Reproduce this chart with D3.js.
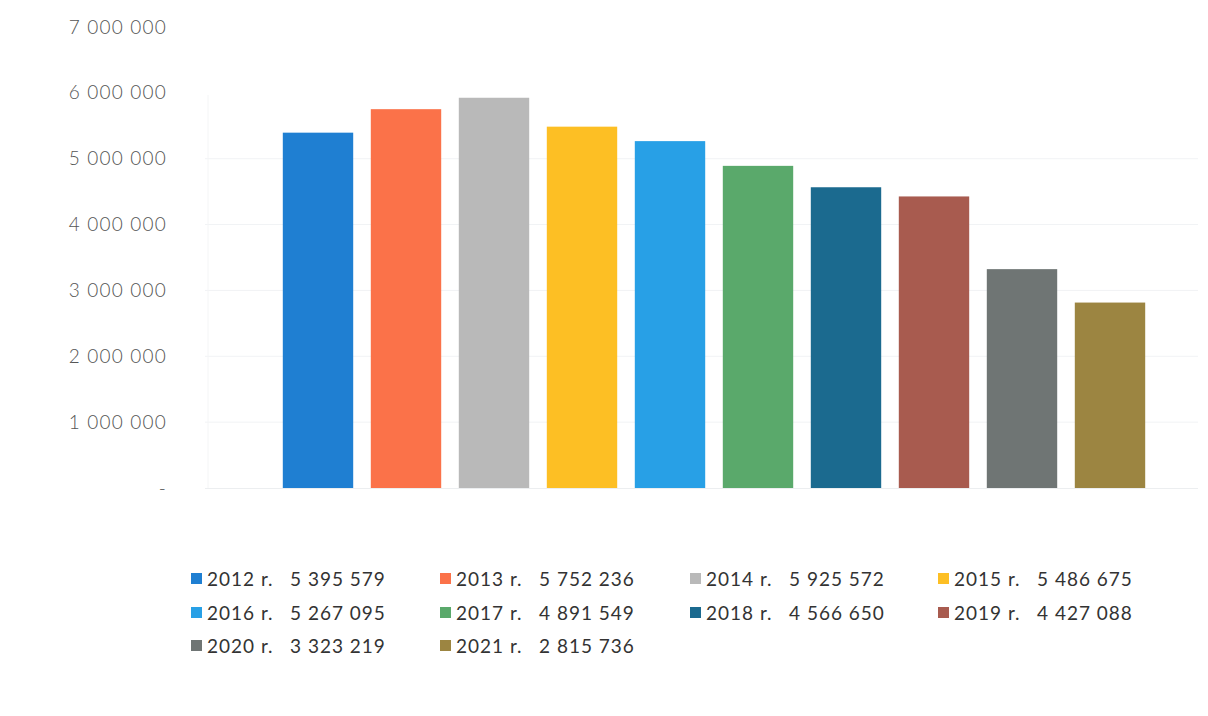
<!DOCTYPE html>
<html><head><meta charset="utf-8">
<script src="https://cdn.jsdelivr.net/npm/d3@7"></script>
<style>
body{margin:0;background:#fff;}
svg{display:block;}
</style></head>
<body>
<svg id="c" width="1208" height="716"></svg>
<script>
const years = ["2012","2013","2014","2015","2016","2017","2018","2019","2020","2021"];
const values = [5395579,5752236,5925572,5486675,5267095,4891549,4566650,4427088,3323219,2815736];
const colors = ["#1f7fd2","#fb7249","#b9b9b9","#fdbf24","#28a0e6","#5aa96b","#1b6a8f","#a85b4f","#6f7574","#9c8541"];
const tickValues = [0,1000000,2000000,3000000,4000000,5000000,6000000,7000000];
const tickLabels = ["-","1 000 000","2 000 000","3 000 000","4 000 000","5 000 000","6 000 000","7 000 000"];
const legendLabels = ["5 395 579","5 752 236","5 925 572","5 486 675","5 267 095","4 891 549","4 566 650","4 427 088","3 323 219","2 815 736"];

const svg = d3.select("#c");
const y = d3.scaleLinear().domain([0,7000000]).range([488,27]);
const x = d3.scaleBand().domain(years).range([274,1154]).paddingInner(0.2).paddingOuter(0.1);

// gridlines (very faint in the reference)
svg.append("g").selectAll("line").data(tickValues.slice(1,6)).join("line")
  .attr("x1",205).attr("x2",1198)
  .attr("y1",d=>y(d)).attr("y2",d=>y(d))
  .attr("stroke","#f1f3f5").attr("stroke-width",1);
svg.append("line").attr("x1",205).attr("x2",1198).attr("y1",y(0)+0.5).attr("y2",y(0)+0.5)
  .attr("stroke","#eceef0");
svg.append("line").attr("x1",208).attr("x2",208).attr("y1",95).attr("y2",488)
  .attr("stroke","#f4f5f6");

// y axis labels
const yAxis = d3.axisLeft(y).tickValues(tickValues).tickSize(0).tickPadding(0)
  .tickFormat((d,i)=>tickLabels[i]);
const ga = svg.append("g").attr("transform","translate(167,0)").call(yAxis);
ga.select(".domain").remove();
ga.selectAll("text").attr("font-family","Lato, 'Open Sans', sans-serif").attr("font-size",19)
  .attr("font-weight",300).attr("letter-spacing","1.2px")
  .attr("fill","#555").attr("dy","0.32em");

// bars
svg.append("g").selectAll("rect").data(years).join("rect")
  .attr("x",d=>x(d)).attr("width",x.bandwidth())
  .attr("y",(d,i)=>y(values[i])).attr("height",(d,i)=>y(0)-y(values[i]))
  .attr("fill",(d,i)=>colors[i]);

// legend
const colX = [191,440,690,938];
const rowY = [579,613,646];
const lg = svg.append("g").selectAll("g").data(years).join("g")
  .attr("transform",(d,i)=>`translate(${colX[i%4]},${rowY[Math.floor(i/4)]})`);
lg.append("rect").attr("x",0).attr("y",-6).attr("width",11).attr("height",11)
  .attr("fill",(d,i)=>colors[i]);
const lt = lg.append("text").attr("y",0).attr("dy","0.35em")
  .attr("font-family","Lato, 'Open Sans', sans-serif").attr("font-size",19)
  .attr("letter-spacing","1px").attr("fill","#333");
lt.append("tspan").attr("x",16).text(d=>`${d} r.`);
lt.append("tspan").attr("x",99).text((d,i)=>legendLabels[i]);
</script>
</body></html>
